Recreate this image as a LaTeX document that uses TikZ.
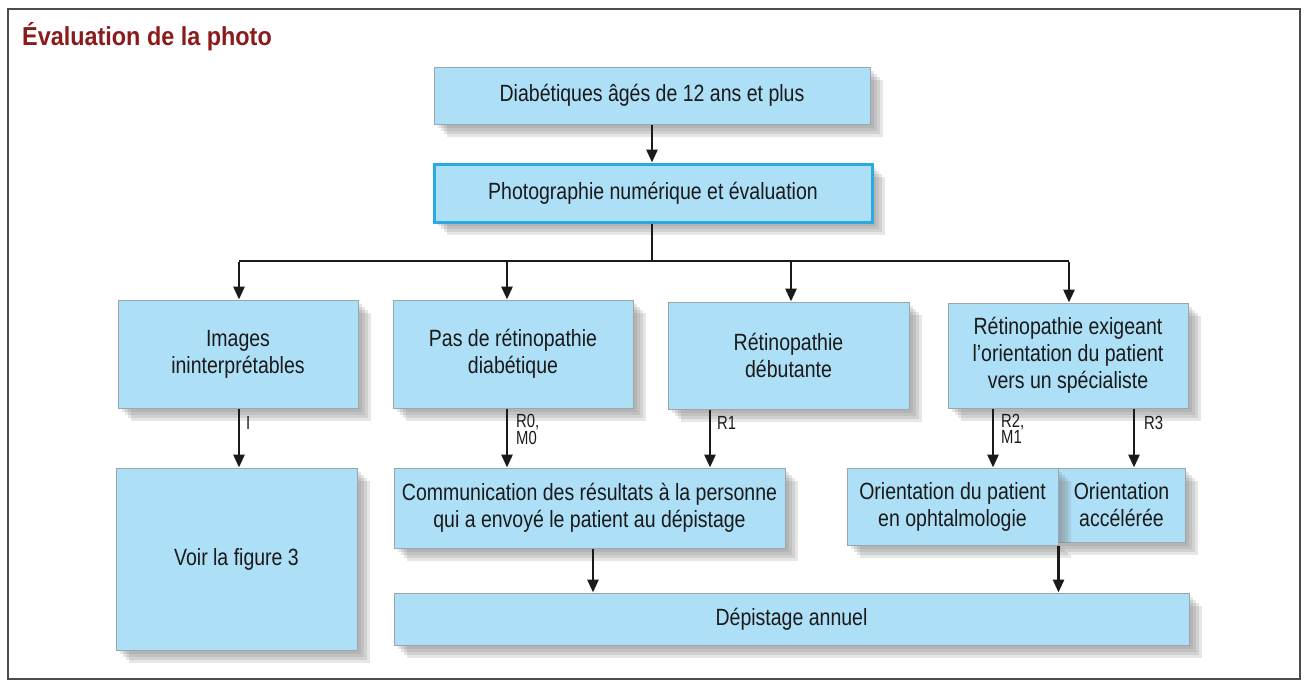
\documentclass[tikz,border=0pt]{standalone}
\usepackage{fontspec}
\setmainfont{Liberation Sans}[FakeStretch=0.83]
\newfontfamily\titlefont{Liberation Sans}[FakeStretch=0.90]
\newfontfamily\labfont{Liberation Sans}[FakeStretch=0.78]
\usetikzlibrary{arrows.meta,shadows,calc}
\definecolor{boxfill}{HTML}{ADDFF7}
\definecolor{boxborder}{HTML}{9AA6AF}
\definecolor{hilite}{HTML}{29ABE2}
\definecolor{titlered}{HTML}{8B1A1A}
\definecolor{linecol}{HTML}{1A1A1A}
\tikzset{
  shad/.style={drop shadow={shadow xshift=#1pt, shadow yshift=-#1pt, fill=black!50, opacity=0.2}},
  box/.style={draw=boxborder, fill=boxfill, line width=1pt, align=center, inner sep=0pt,
    font=\fontsize{23.5}{27}\selectfont, text=linecol,
    shad=4, shad=7, shad=10, shad=13},
  conn/.style={draw=linecol, line width=2.8pt},
  arr/.style={conn, -{Triangle[width=11pt,length=13pt]}},
  lab/.style={anchor=north west, inner sep=0pt, align=left, text=linecol,
    font=\labfont\fontsize{19}{15}\selectfont}
}
\begin{document}
\begin{tikzpicture}[x=1pt,y=-1pt]
\useasboundingbox (0,0) rectangle (1307,686);
\draw[draw=black!70, line width=1.5pt] (8,9) rectangle (1300,679);
\node[anchor=base west, inner sep=0pt, text=titlered, font=\titlefont\fontsize{26}{30}\selectfont\bfseries] (title) at (22,45) {Évaluation de la photo};

\node[box, minimum width=436pt, minimum height=57pt] (top) at (652,95.5) {Diabétiques âgés de 12 ans et plus};
\node[box, draw=hilite, line width=3pt, minimum width=438pt, minimum height=58pt] (photo) at (653,193) {Photographie numérique et évaluation};

\node[box, minimum width=240pt, minimum height=108pt] (img) at (238,354) {Images\\ininterprétables};
\node[box, minimum width=240pt, minimum height=108pt] (pas) at (513,354) {Pas de rétinopathie\\diabétique};
\node[box, minimum width=241pt, minimum height=107pt] (deb) at (788.5,355.5) {Rétinopathie\\débutante};
\node[box, minimum width=240pt, minimum height=105pt] (exi) at (1068,355.5) {Rétinopathie exigeant\\l’orientation du patient\\vers un spécialiste};

\node[box, minimum width=241pt, minimum height=182pt] (voir) at (236.5,559) {Voir la figure 3};
\node[box, minimum width=391pt, minimum height=80pt] (comm) at (589.5,508) {Communication des résultats à la personne\\qui a envoyé le patient au dépistage};
\node[box, minimum width=127pt, minimum height=74pt] (acc) at (1121.5,505) {Orientation\\accélérée};
\node[box, minimum width=211pt, minimum height=77pt] (oph) at (952.5,506.5) {Orientation du patient\\en ophtalmologie};
\node[box, minimum width=795pt, minimum height=52pt] (dep) at (791.5,619) {Dépistage annuel};

% connectors
\draw[arr] (top.south) -- (top.south |- photo.north);
\coordinate (j) at (652,261);
\draw[conn] ([xshift=-1pt]photo.south) -- (j);
\coordinate (jl) at (239,261);
\coordinate (jr) at (1069,261);
\draw[conn] (jl) -- (jr);
\draw[arr] ([yshift=-1.4pt]jl) -- (jl |- img.north);
\draw[arr] (j -| 507,0) -- ([xshift=-6pt]pas.north);
\draw[arr] (j -| 791,0) -- ([xshift=2.5pt]deb.north);
\draw[arr] ([yshift=-1.4pt]jr) -- (jr |- exi.north);

\draw[arr] ([xshift=1pt]img.south) -- ([xshift=1pt]img.south |- voir.north);
\draw[arr] ([xshift=-6pt]pas.south) -- ([xshift=-6pt]pas.south |- comm.north);
\draw[arr] ([xshift=-78.5pt]deb.south) -- ([xshift=-78.5pt]deb.south |- comm.north);
\draw[arr] ([xshift=-75pt]exi.south) -- ([xshift=-75pt]exi.south |- oph.north);
\draw[arr] ([xshift=66pt]exi.south) -- ([xshift=66pt]exi.south |- acc.north);

\draw[arr] ([xshift=3.5pt]comm.south) -- ([xshift=3.5pt]comm.south |- dep.north);
\draw[arr] (oph.south east) -- (oph.south east |- dep.north);

% labels
\node[lab] (lI) at (246,416) {I};
\node[lab] (l0) at (516,414) {R0,\\M0};
\node[lab] (l1) at (717,416) {R1};
\node[lab] (l2) at (1001,414) {R2,\\M1};
\node[lab] (l3) at (1144,416) {R3};
\end{tikzpicture}
\end{document}
